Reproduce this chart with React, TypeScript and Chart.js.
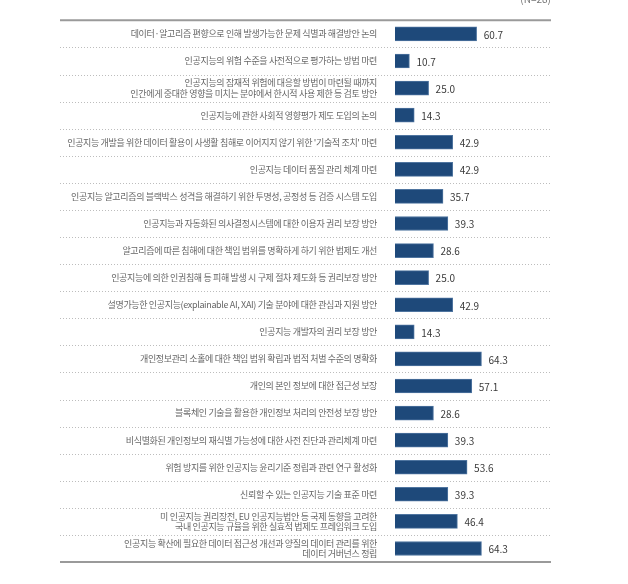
import React, { useEffect, useRef } from "react";
import { Chart, registerables } from "chart.js";

Chart.register(...registerables);

const categories: (string | string[])[] = [
  "데이터·알고리즘 편향으로 인해 발생가능한 문제 식별과 해결방안 논의",
  "인공지능의 위험 수준을 사전적으로 평가하는 방법 마련",
  ["인공지능의 잠재적 위험에 대응할 방법이 마련될 때까지", "인간에게 중대한 영향을 미치는 분야에서 한시적 사용 제한 등 검토 방안"],
  "인공지능에 관한 사회적 영향평가 제도 도입의 논의",
  "인공지능 개발을 위한 데이터 활용이 사생활 침해로 이어지지 않기 위한 '기술적 조치' 마련",
  "인공지능 데이터 품질 관리 체계 마련",
  "인공지능 알고리즘의 블랙박스 성격을 해결하기 위한 투명성, 공정성 등 검증 시스템 도입",
  "인공지능과 자동화된 의사결정시스템에 대한 이용자 권리 보장 방안",
  "알고리즘에 따른 침해에 대한 책임 범위를 명확하게 하기 위한 법제도 개선",
  "인공지능에 의한 인권침해 등 피해 발생 시 구제 절차 제도화 등 권리보장 방안",
  "설명가능한 인공지능(explainable AI, XAI) 기술 분야에 대한 관심과 지원 방안",
  "인공지능 개발자의 권리 보장 방안",
  "개인정보관리 소홀에 대한 책임 범위 확립과 법적 처벌 수준의 명확화",
  "개인의 본인 정보에 대한 접근성 보장",
  "블록체인 기술을 활용한 개인정보 처리의 안전성 보장 방안",
  "비식별화된 개인정보의 재식별 가능성에 대한 사전 진단과 관리체계 마련",
  "위험 방지를 위한 인공지능 윤리기준 정립과 관련 연구 활성화",
  "신뢰할 수 있는 인공지능 기술 표준 마련",
  ["미 인공지능 권리장전, EU 인공지능법안 등 국제 동향을 고려한", "국내 인공지능 규율을 위한 실효적 법제도 프레임워크 도입"],
  ["인공지능 확산에 필요한 데이터 접근성 개선과 양질의 데이터 관리를 위한", "데이터 거버넌스 정립"],
];

const values: number[] = [
  60.7, 10.7, 25.0, 14.3, 42.9, 42.9, 35.7, 39.3, 28.6, 25.0,
  42.9, 14.3, 64.3, 57.1, 28.6, 39.3, 53.6, 39.3, 46.4, 64.3,
];

const sampleNote = "(N=28)";

const LINE_LEFT = 60;

const framePlugin = {
  id: "frame",
  beforeDraw(chart: any) {
    chart.ctx.letterSpacing = "-0.35px";
  },
  afterDraw(chart: any) {
    const { ctx, chartArea, scales } = chart;
    const y = scales.y;
    const right = chartArea.right;
    ctx.save();
    ctx.letterSpacing = "0px";
    // dotted separators
    ctx.strokeStyle = "#bdbdbd";
    ctx.lineWidth = 1;
    ctx.setLineDash([1, 2]);
    for (let i = 0; i < categories.length - 1; i++) {
      const yy = Math.round((y.getPixelForValue(i) + y.getPixelForValue(i + 1)) / 2) + 0.5;
      ctx.beginPath();
      ctx.moveTo(LINE_LEFT, yy);
      ctx.lineTo(right, yy);
      ctx.stroke();
    }
    ctx.setLineDash([]);
    // top & bottom rules
    ctx.strokeStyle = "#9a9a9a";
    ctx.lineWidth = 2;
    ctx.beginPath();
    ctx.moveTo(LINE_LEFT, chartArea.top);
    ctx.lineTo(right, chartArea.top);
    ctx.stroke();
    ctx.beginPath();
    ctx.moveTo(LINE_LEFT, chartArea.bottom);
    ctx.lineTo(right, chartArea.bottom);
    ctx.stroke();
    // N note (partially cut off at the top edge)
    ctx.fillStyle = "#777";
    ctx.font = "10px 'Noto Sans CJK KR', sans-serif";
    ctx.textAlign = "right";
    ctx.textBaseline = "middle";
    ctx.fillText(sampleNote, right, -1);
    // value labels
    const meta = chart.getDatasetMeta(0);
    ctx.fillStyle = "#3a3a3a";
    ctx.font = "10px 'Noto Sans CJK KR', sans-serif";
    ctx.textAlign = "left";
    ctx.textBaseline = "middle";
    meta.data.forEach((bar: any, i: number) => {
      ctx.fillText(values[i].toFixed(1), bar.x + 7, bar.y + 1);
    });
    ctx.restore();
  },
};

export default function App() {
  const ref = useRef<HTMLCanvasElement>(null);
  useEffect(() => {
    if (!ref.current) return;
    const chart = new Chart(ref.current, {
      type: "bar",
      data: {
        labels: categories,
        datasets: [
          {
            data: values,
            backgroundColor: "#1e497a",
            borderColor: "#4f75a0",
            borderWidth: 1,
            barThickness: 14,
          },
        ],
      },
      options: {
        indexAxis: "y",
        animation: false,
        responsive: false,
        layout: { padding: { left: LINE_LEFT, right: 77, top: 8, bottom: 22 } },
        plugins: { legend: { display: false }, tooltip: { enabled: false } },
        scales: {
          x: { display: false, min: 0, max: 116 },
          y: {
            offset: true,
            border: { display: false },
            grid: { display: false },
            afterFit: (scale: any) => {
              scale.width = 335;
            },
            ticks: {
              padding: 10,
              color: "#666",
              autoSkip: false,
              font: { family: "'Noto Sans CJK KR', sans-serif", size: 9, lineHeight: 1.15 },
            },
          },
        },
      },
      plugins: [framePlugin],
    });
    return () => chart.destroy();
  }, []);
  return (
    <div style={{ position: "absolute", left: 0, top: 0, width: 628, height: 584, background: "#fff" }}>
      <canvas ref={ref} width={628} height={584} />
    </div>
  );
}
